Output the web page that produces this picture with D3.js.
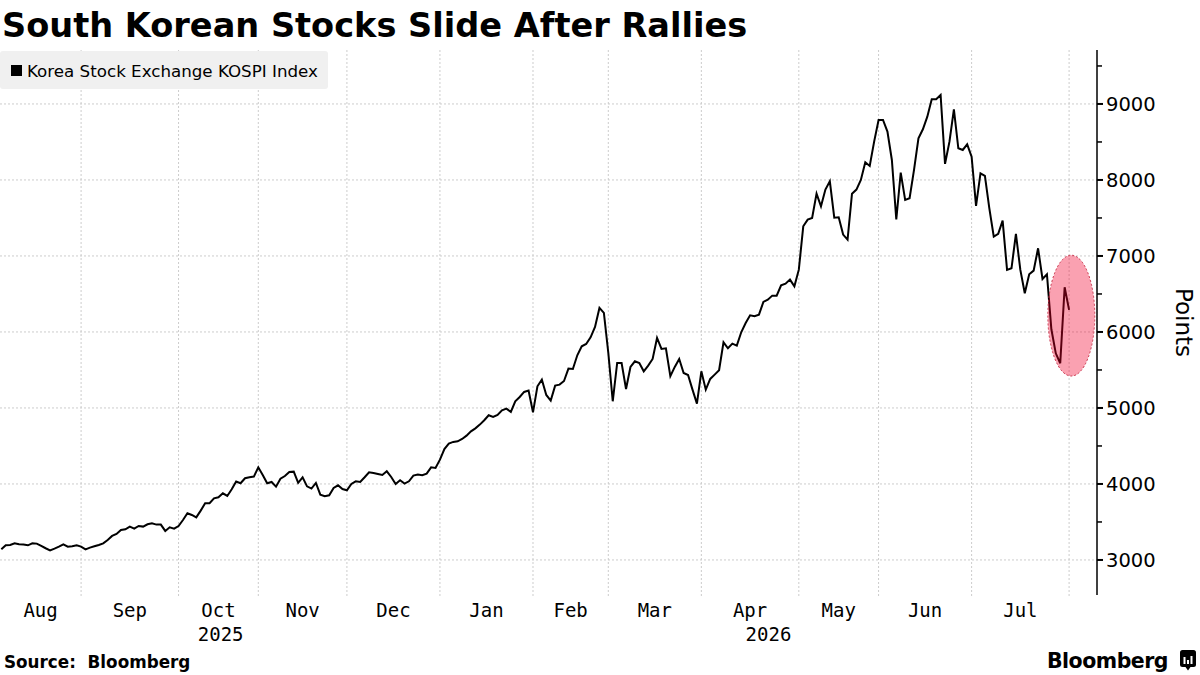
<!DOCTYPE html>
<html>
<head>
<meta charset="utf-8">
<script src="https://cdn.jsdelivr.net/npm/d3@7"></script>
<style>
    body { margin: 0; background: #fff; }
    svg { display: block; }
</style>
</head>
<body>
<svg id="chart" width="1200" height="675"></svg>
<script>
// daily closes, one per trading day (Aug 2025 -> early Aug 2026)
const kospi = [
    3140, 3193, 3197, 3219, 3206, 3202, 3193, 3219, 3215, 3184,
    3154, 3127, 3149, 3175, 3206, 3175, 3180, 3193, 3175, 3140,
    3162, 3180, 3197, 3219, 3263, 3316, 3342, 3395, 3404, 3439,
    3412, 3447, 3439, 3469, 3482, 3465, 3465, 3382, 3430, 3412,
    3447, 3526, 3614, 3592, 3561, 3649, 3746, 3746, 3811, 3825,
    3877, 3842, 3930, 4031, 4009, 4075, 4088, 4097, 4219, 4118,
    4009, 4026, 3965, 4070, 4105, 4158, 4162, 4015,
    4088, 3969, 3939, 4013, 3860, 3838, 3851, 3947, 3982, 3934,
    3917, 4000, 4035, 4026, 4088, 4154, 4145, 4132, 4118, 4167,
    4092, 4000, 4048, 4004, 4035, 4110, 4123, 4114, 4136, 4219,
    4211, 4320, 4460, 4531, 4553, 4561, 4592, 4636, 4693, 4732,
    4781, 4838, 4904, 4882, 4908, 4969, 4991, 4947, 5088, 5145,
    5211, 5228, 4943, 5285, 5373, 5171, 5097, 5294, 5307, 5355,
    5518, 5513, 5693, 5811, 5842, 5930, 6066, 6316, 6250, 5724,
    5088,
    5592, 5592, 5250, 5539, 5614, 5592, 5482, 5557, 5645, 5921,
    5776, 5785, 5417, 5540, 5645, 5460, 5434, 5241, 5057, 5482,
    5241, 5382, 5439, 5496, 5864, 5785, 5846, 5820, 5996, 6118,
    6219, 6206, 6228, 6395, 6425, 6478, 6478, 6614, 6636, 6689,
    6601, 6820, 7390, 7478, 7500, 7820, 7653, 7873, 7982, 7504,
    7509, 7281, 7215, 7820, 7873,
    8000, 8232, 8184, 8504, 8789, 8789, 8636, 8263, 7482, 8096,
    7737, 7759, 8132, 8548, 8667, 8833, 9061, 9061, 9118, 8211,
    8504, 8930, 8417, 8395, 8469, 8307, 7658, 8088, 8053, 7627,
    7254, 7290, 7465, 6816, 6838, 7290, 6816, 6509, 6759, 6807,
    7101, 6697, 6759, 6035, 5719, 5588, 6588, 6290
];

// trading-day index where each month starts (first month is partial)
const monthLabels = ["Aug", "Sep", "Oct", "Nov", "Dec", "Jan", "Feb", "Mar", "Apr", "May", "Jun", "Jul"];
const monthStarts = [0, 18, 40, 58, 78, 99, 120, 137, 158, 180, 198, 219, 241];
const years = [{ label: "2025", from: 0, to: 99 }, { label: "2026", from: 99, to: 247.3 }];

const yTicks = [3000, 4000, 5000, 6000, 7000, 8000, 9000];
const yMinorTicks = [3500, 4500, 5500, 6500, 7500, 8500, 9500];

// circled recent slide
const highlight = { from: 236.2, to: 246.8, low: 5420, high: 7010 };

const svg = d3.select("#chart");

const plot = { left: 0, right: 1097, top: 50, bottom: 595 };

const xScale = d3.scaleLinear().domain([-0.3, 247.3]).range([plot.left, plot.right]);
const yScale = d3.scaleLinear().domain([2539, 9710]).range([plot.bottom, plot.top]);

// title
svg.append("text")
    .attr("x", 2)
    .attr("y", 37)
    .attr("font-family", "DejaVu Sans")
    .attr("font-weight", "bold")
    .attr("font-size", 33.6)
    .attr("fill", "#000")
    .text("South Korean Stocks Slide After Rallies");

// grid
svg.selectAll(".h-grid")
    .data(yTicks)
    .join("line")
    .attr("class", "h-grid")
    .attr("x1", plot.left)
    .attr("x2", plot.right)
    .attr("y1", d => yScale(d))
    .attr("y2", d => yScale(d))
    .attr("stroke", "#cccccc")
    .attr("stroke-width", 1)
    .attr("stroke-dasharray", "2,2");

svg.selectAll(".v-grid")
    .data(monthStarts.slice(1))
    .join("line")
    .attr("class", "v-grid")
    .attr("x1", d => xScale(d))
    .attr("x2", d => xScale(d))
    .attr("y1", plot.top)
    .attr("y2", plot.bottom + 3)
    .attr("stroke", "#cccccc")
    .attr("stroke-width", 1)
    .attr("stroke-dasharray", "2,2");

// legend
const legend = svg.append("g");
legend.append("rect")
    .attr("x", 0)
    .attr("y", 51)
    .attr("width", 328)
    .attr("height", 38)
    .attr("rx", 3)
    .attr("fill", "#f0f0f0");
legend.append("rect")
    .attr("x", 11)
    .attr("y", 65)
    .attr("width", 11)
    .attr("height", 11)
    .attr("fill", "#000");
legend.append("text")
    .attr("x", 27)
    .attr("y", 77)
    .attr("font-family", "DejaVu Sans")
    .attr("font-size", 16.7)
    .attr("fill", "#000")
    .text("Korea Stock Exchange KOSPI Index");

// price line
const line = d3.line()
    .x((d, i) => xScale(i))
    .y(d => yScale(d));

svg.append("path")
    .datum(kospi)
    .attr("fill", "none")
    .attr("stroke", "#000")
    .attr("stroke-width", 2)
    .attr("stroke-linejoin", "miter")
    .attr("d", line);

// highlight ellipse drawn over the line
svg.append("ellipse")
    .attr("cx", (xScale(highlight.from) + xScale(highlight.to)) / 2)
    .attr("cy", (yScale(highlight.low) + yScale(highlight.high)) / 2)
    .attr("rx", (xScale(highlight.to) - xScale(highlight.from)) / 2)
    .attr("ry", (yScale(highlight.low) - yScale(highlight.high)) / 2)
    .attr("fill", "rgb(241,0,43)")
    .attr("fill-opacity", 0.37)
    .attr("stroke", "#c8324a")
    .attr("stroke-width", 1)
    .attr("stroke-dasharray", "2,2");

// right axis
const axis = svg.append("g");
axis.append("line")
    .attr("x1", plot.right)
    .attr("x2", plot.right)
    .attr("y1", plot.top)
    .attr("y2", plot.bottom)
    .attr("stroke", "#000")
    .attr("stroke-width", 1.5);

axis.selectAll(".major-tick")
    .data(yTicks)
    .join("line")
    .attr("class", "major-tick")
    .attr("x1", plot.right)
    .attr("x2", plot.right + 6)
    .attr("y1", d => yScale(d))
    .attr("y2", d => yScale(d))
    .attr("stroke", "#000")
    .attr("stroke-width", 2);

axis.selectAll(".minor-tick")
    .data(yMinorTicks)
    .join("line")
    .attr("class", "minor-tick")
    .attr("x1", plot.right)
    .attr("x2", plot.right + 5)
    .attr("y1", d => yScale(d))
    .attr("y2", d => yScale(d))
    .attr("stroke", "#000")
    .attr("stroke-width", 1.5);

axis.selectAll(".y-label")
    .data(yTicks)
    .join("text")
    .attr("class", "y-label")
    .attr("x", plot.right + 9)
    .attr("y", d => yScale(d))
    .attr("dy", "0.36em")
    .attr("font-family", "DejaVu Sans")
    .attr("font-size", 19.5)
    .attr("fill", "#000")
    .text(d => d);

svg.append("text")
    .attr("transform", `translate(1176, ${(plot.top + plot.bottom) / 2}) rotate(90)`)
    .attr("text-anchor", "middle")
    .attr("font-family", "DejaVu Sans")
    .attr("font-size", 23)
    .attr("fill", "#000")
    .text("Points");

// month + year labels
const monthMids = monthLabels.map((m, i) => ({
    label: m,
    mid: (xScale(monthStarts[i]) + xScale(i + 1 < monthStarts.length ? monthStarts[i + 1] : 247.3)) / 2
}));
monthMids[0].mid = (plot.left + xScale(monthStarts[1])) / 2;

svg.selectAll(".month-label")
    .data(monthMids)
    .join("text")
    .attr("class", "month-label")
    .attr("x", d => d.mid)
    .attr("y", 617)
    .attr("text-anchor", "middle")
    .attr("font-family", "DejaVu Sans Mono")
    .attr("font-size", 19)
    .attr("fill", "#000")
    .text(d => d.label);

svg.selectAll(".year-label")
    .data(years)
    .join("text")
    .attr("class", "year-label")
    .attr("x", d => (Math.max(plot.left, xScale(d.from)) + Math.min(plot.right, xScale(d.to))) / 2)
    .attr("y", 641)
    .attr("text-anchor", "middle")
    .attr("font-family", "DejaVu Sans Mono")
    .attr("font-size", 19)
    .attr("fill", "#000")
    .text(d => d.label);

// footer
svg.append("text")
    .attr("x", 4)
    .attr("y", 668)
    .attr("font-family", "DejaVu Sans")
    .attr("font-weight", "bold")
    .attr("font-size", 16.8)
    .attr("fill", "#000")
    .text("Source:\u00a0 Bloomberg");

svg.append("text")
    .attr("x", 1168)
    .attr("y", 668)
    .attr("text-anchor", "end")
    .attr("font-family", "DejaVu Sans")
    .attr("font-weight", "bold")
    .attr("font-size", 20.5)
    .attr("letter-spacing", -0.5)
    .attr("fill", "#000")
    .text("Bloomberg");

const logo = svg.append("g").attr("transform", "translate(1180, 650)");
logo.append("rect")
    .attr("width", 16)
    .attr("height", 17)
    .attr("rx", 2.5)
    .attr("fill", "#000");
logo.append("path")
    .attr("d", "M5.5,17 L8,20.5 L10.5,17 Z")
    .attr("fill", "#000");
logo.selectAll(".bar")
    .data([[3.5, 7], [7, 4], [10.5, 8]])
    .join("rect")
    .attr("class", "bar")
    .attr("x", d => d[0])
    .attr("y", d => 14 - d[1])
    .attr("width", 2)
    .attr("height", d => d[1])
    .attr("fill", "#fff");
</script>
</body>
</html>
